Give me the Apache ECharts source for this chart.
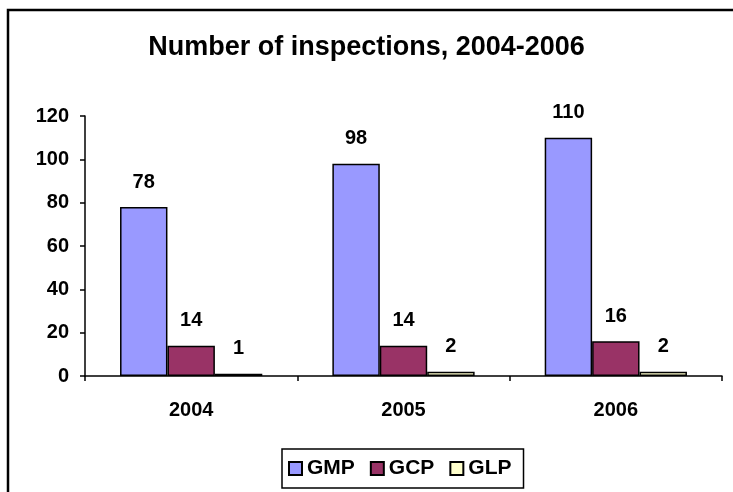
<!DOCTYPE html>
<html>
<head>
<meta charset="utf-8">
<script src="https://cdn.jsdelivr.net/npm/echarts@6/dist/echarts.min.js"></script>
<style>
  html, body { margin: 0; padding: 0; background: #fff; }
  #chart { width: 733px; height: 492px; }
</style>
</head>
<body>
<div id="chart"></div>
<script>
const years = ['2004', '2005', '2006']
const gmp = [78, 98, 110]
const gcp = [14, 14, 16]
const glp = [1, 2, 2]
const yTicks = [0, 20, 40, 60, 80, 100, 120]

const chart = echarts.init(document.getElementById('chart'))
const font = 'Arial, "Liberation Sans", sans-serif'

function barSeries(name, data, color) {
  return {
    name: name,
    type: 'bar',
    data: data,
    barGap: '0%',
    barCategoryGap: '33%',
    itemStyle: { color: color, borderColor: '#000', borderWidth: 1.5 },
    label: {
      show: true,
      position: 'top',
      distance: 15,
      color: '#000',
      fontFamily: font,
      fontWeight: 'bold',
      fontSize: 20
    }
  }
}

chart.setOption({
  animation: false,
  backgroundColor: '#fff',
  title: {
    text: 'Number of inspections, 2004-2006',
    left: 'center',
    top: 29,
    textStyle: { fontFamily: font, fontWeight: 'bold', fontSize: 27, color: '#000' }
  },
  graphic: [{
    type: 'rect',
    shape: { x: 8, y: 10, width: 740, height: 500 },
    style: { fill: null, stroke: '#000', lineWidth: 2.5 },
    silent: true
  }],
  legend: {
    top: 449,
    left: 282,
    padding: [9, 12, 9, 6],
    borderColor: '#000',
    borderWidth: 1.5,
    itemWidth: 13,
    itemHeight: 13,
    itemGap: 15,
    itemStyle: { borderColor: '#000', borderWidth: 2 },
    icon: 'rect',
    textStyle: { fontFamily: font, fontWeight: 'bold', fontSize: 21, color: '#000' }
  },
  grid: { left: 85, right: 11, top: 116, bottom: 116 },
  xAxis: {
    type: 'category',
    data: years,
    axisLine: { lineStyle: { color: '#000', width: 1.5 } },
    axisTick: { show: true, length: 5, lineStyle: { color: '#000', width: 1.5 } },
    axisLabel: { color: '#000', fontFamily: font, fontWeight: 'bold', fontSize: 20, margin: 24 }
  },
  yAxis: {
    type: 'value',
    min: yTicks[0],
    max: yTicks[yTicks.length - 1],
    interval: yTicks[1] - yTicks[0],
    axisLine: { show: true, lineStyle: { color: '#000', width: 1.5 } },
    axisTick: { show: true, length: 5, lineStyle: { color: '#000', width: 1.5 } },
    splitLine: { show: false },
    axisLabel: { color: '#000', fontFamily: font, fontWeight: 'bold', fontSize: 20, margin: 16 }
  },
  series: [
    barSeries('GMP', gmp, '#9999FF'),
    barSeries('GCP', gcp, '#993366'),
    barSeries('GLP', glp, '#FFFFCC')
  ]
})
</script>
</body>
</html>
